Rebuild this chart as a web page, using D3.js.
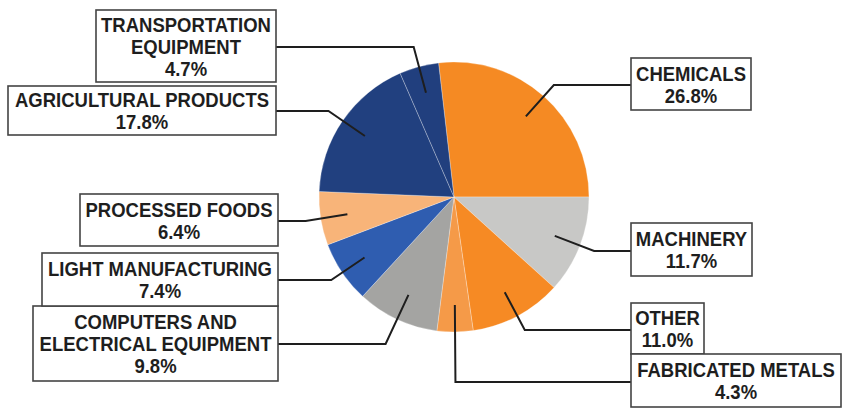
<!DOCTYPE html>
<html>
<head>
<meta charset="utf-8">
<script src="https://cdn.jsdelivr.net/npm/d3@7/dist/d3.min.js"></script>
<style>
  html, body { margin: 0; padding: 0; background: #fff; }
  svg { display: block; }
  .lbl { font-family: "Liberation Sans", Arial, sans-serif; font-weight: bold; font-size: 18.5px; fill: #1e1e1e; }
</style>
</head>
<body>
<svg id="chart" width="842" height="408"></svg>
<script>
// Shares of exports by sector, clockwise from Chemicals
const categories = [
  "CHEMICALS", "MACHINERY", "OTHER", "FABRICATED METALS",
  "COMPUTERS AND ELECTRICAL EQUIPMENT", "LIGHT MANUFACTURING",
  "PROCESSED FOODS", "AGRICULTURAL PRODUCTS", "TRANSPORTATION EQUIPMENT"
];
const values = [26.8, 11.7, 11.0, 4.3, 9.8, 7.4, 6.4, 17.8, 4.7];
const colors = ["#F58A23", "#C8C8C6", "#F68A24", "#F59A48", "#A4A4A2",
                "#2F5DB0", "#F8B479", "#21407F", "#213F7E"];
// Text lines shown in each label box
const labelLines = [
  ["CHEMICALS"], ["MACHINERY"], ["OTHER"], ["FABRICATED METALS"],
  ["COMPUTERS AND", "ELECTRICAL EQUIPMENT"], ["LIGHT MANUFACTURING"],
  ["PROCESSED FOODS"], ["AGRICULTURAL PRODUCTS"], ["TRANSPORTATION", "EQUIPMENT"]
];

// Label box placement: x0,y0,x1,y1, the y where the leader meets the box, and side
const boxes = [
  { x0: 631, y0: 58,  x1: 751, y1: 110, ly: 85,  side: "right" },
  { x0: 631, y0: 223, x1: 752, y1: 276, ly: 251, side: "right" },
  { x0: 631, y0: 303, x1: 704, y1: 354, ly: 330, side: "right" },
  { x0: 631, y0: 354, x1: 841, y1: 407, ly: 382, side: "right" },
  { x0: 33,  y0: 306, x1: 278, y1: 381, ly: 344, side: "left" },
  { x0: 42,  y0: 253, x1: 278, y1: 306, ly: 280, side: "left" },
  { x0: 80,  y0: 194, x1: 278, y1: 246, ly: 221, side: "left" },
  { x0: 8,   y0: 86,  x1: 276, y1: 135, ly: 111, side: "left" },
  { x0: 96,  y0: 10,  x1: 276, y1: 82,  ly: 47,  side: "left" }
];

const svg = d3.select("#chart");
const cx = 454, cy = 197, R = 135;

const data = categories.map((c, i) => ({ name: c, value: values[i], color: colors[i], lines: labelLines[i], box: boxes[i] }));

const total = d3.sum(values);
// Chemicals ends exactly at 3 o'clock
const start = Math.PI / 2 - (values[0] / total) * 2 * Math.PI;
const pie = d3.pie().value(d => d.value).sort(null)
  .startAngle(start).endAngle(start + 2 * Math.PI);
const arcs = pie(data);
const arc = d3.arc().innerRadius(0).outerRadius(R);

const g = svg.append("g").attr("transform", `translate(${cx},${cy})`);
g.selectAll("path.slice").data(arcs).join("path")
  .attr("class", "slice")
  .attr("d", arc)
  .attr("fill", d => d.data.color)
  .attr("stroke", "rgba(255,255,255,0.35)")
  .attr("stroke-width", 0.8);

// Leader lines: radial from 0.8R out to the box's line height, then horizontal
arcs.forEach(a => {
  const b = a.data.box;
  const mid = (a.startAngle + a.endAngle) / 2;
  const s = Math.sin(mid), c = Math.cos(mid);
  const r0 = 0.8 * R;
  const p0 = [cx + r0 * s, cy - r0 * c];
  const rE = (cy - b.ly) / c;
  const pE = [cx + rE * s, b.ly];
  const xEdge = b.side === "right" ? b.x0 : b.x1;
  svg.append("path")
    .attr("d", d3.line()([p0, pE, [xEdge, b.ly]]))
    .attr("fill", "none")
    .attr("stroke", "#1e1e1e")
    .attr("stroke-width", 2);
});

// Label boxes
arcs.forEach(a => {
  const b = a.data.box;
  const lines = a.data.lines.concat([d3.format(".1f")(a.data.value) + "%"]);
  const bg = svg.append("g");
  bg.append("rect")
    .attr("x", b.x0).attr("y", b.y0)
    .attr("width", b.x1 - b.x0).attr("height", b.y1 - b.y0)
    .attr("fill", "#fff").attr("stroke", "#444").attr("stroke-width", 1.6);
  const lh = 22;
  const midY = (b.y0 + b.y1) / 2;
  const firstBase = midY - (lines.length - 1) * lh / 2 + 7.5;
  lines.forEach((t, i) => {
    bg.append("text").attr("class", "lbl")
      .attr("transform", `translate(${(b.x0 + b.x1) / 2},${firstBase + i * lh}) scale(1,1.08)`)
      .attr("text-anchor", "middle")
      .text(t);
  });
});
</script>
</body>
</html>
